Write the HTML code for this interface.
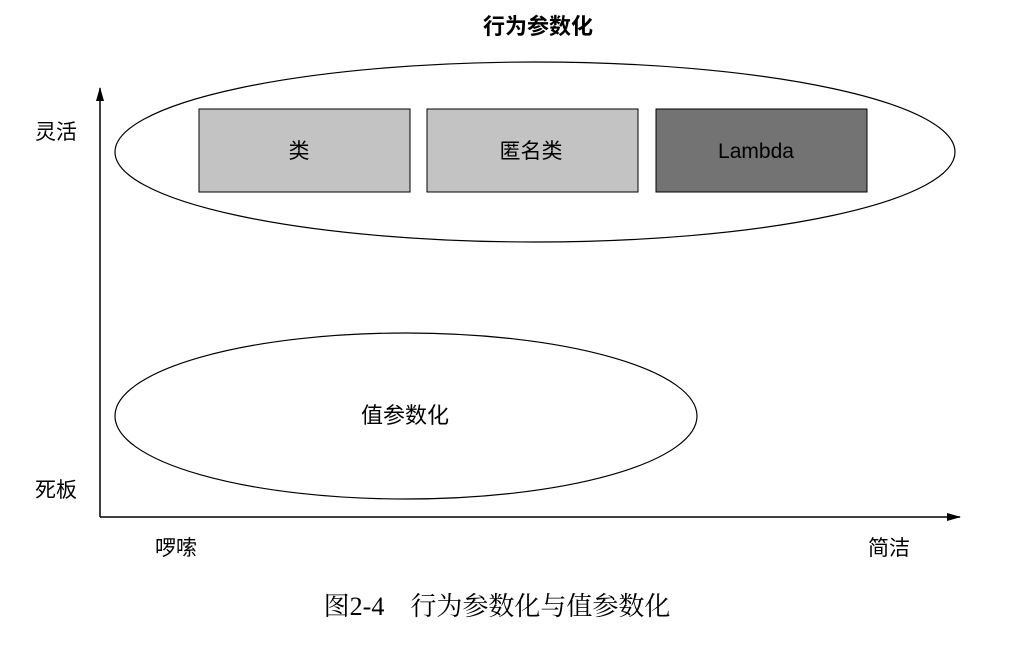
<!DOCTYPE html>
<html><head><meta charset="utf-8"><style>
html,body{margin:0;padding:0;background:#fff;}
svg{display:block;}
</style></head><body>
<svg width="1035" height="651" viewBox="0 0 1035 651" xmlns="http://www.w3.org/2000/svg">
<defs><marker id="a" markerWidth="14" markerHeight="10" refX="13" refY="5" orient="auto" markerUnits="userSpaceOnUse"><path d="M0,1 L14,5 L0,9 Z" fill="#000"/></marker></defs>
<text x="538" y="34" text-anchor="middle" font-family="Liberation Sans, Noto Sans CJK SC, sans-serif" font-size="22" font-weight="bold">行为参数化</text>
<ellipse cx="535" cy="152" rx="420" ry="90" fill="#fff" stroke="#000" stroke-width="1.2"/>
<rect x="199" y="109" width="211" height="83" fill="#c3c3c3" stroke="#000" stroke-width="1"/>
<rect x="427" y="109" width="211" height="83" fill="#c3c3c3" stroke="#000" stroke-width="1"/>
<rect x="656" y="109" width="211" height="83" fill="#737373" stroke="#000" stroke-width="1"/>
<g font-family="Liberation Sans, Noto Sans CJK SC, sans-serif" font-size="21" text-anchor="middle">
<text x="299" y="158">类</text>
<text x="531" y="158">匿名类</text>
<text x="756" y="158">Lambda</text>
</g>
<ellipse cx="406" cy="416" rx="291" ry="83" fill="#fff" stroke="#000" stroke-width="1.2"/>
<text x="405" y="423" text-anchor="middle" font-family="Liberation Sans, Noto Sans CJK SC, sans-serif" font-size="22">值参数化</text>
<line x1="100" y1="517" x2="100" y2="88" stroke="#000" stroke-width="1.5" marker-end="url(#a)"/>
<line x1="100" y1="517" x2="960" y2="517" stroke="#000" stroke-width="1.5" marker-end="url(#a)"/>
<g font-family="Liberation Sans, Noto Sans CJK SC, sans-serif" font-size="21">
<text x="35" y="139">灵活</text>
<text x="35" y="497">死板</text>
<text x="155" y="555">啰嗦</text>
<text x="868" y="555">简洁</text>
</g>
<text x="497" y="615" text-anchor="middle" font-family="Liberation Serif, Noto Serif CJK SC, serif" font-size="26">图2-4　行为参数化与值参数化</text>
</svg>
</body></html>
